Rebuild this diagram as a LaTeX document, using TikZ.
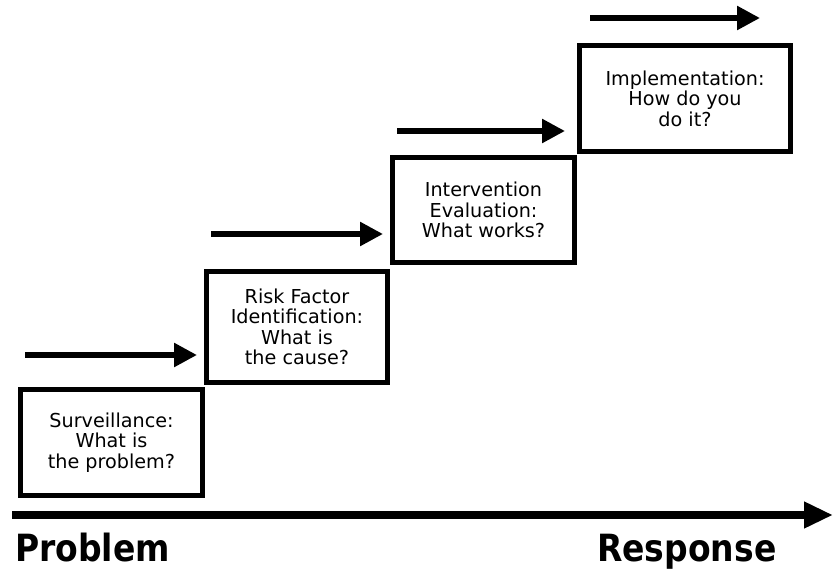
\documentclass[tikz,border=0pt]{standalone}
\usepackage{fontspec}
\setmainfont{DejaVu Sans}
\newfontfamily\axfont[FakeStretch=0.88]{DejaVu Sans}
\usetikzlibrary{arrows.meta}
\begin{document}
\begin{tikzpicture}[x=1pt,y=-1pt,
  stepbox/.style={draw, line width=5pt, align=center, inner sep=0pt,
    font=\fontsize{19.2}{20.5}\selectfont},
  smallarrow/.style={line width=5.5pt, -{Triangle[length=23pt,width=23pt]}},
  axisarrow/.style={line width=8pt, -{Triangle[length=29pt,width=25pt]}},
  axlabel/.style={font=\axfont\bfseries\fontsize{37.5}{40}\selectfont, anchor=base west, inner sep=0pt}]
\useasboundingbox (0,0) rectangle (833,570);
% step boxes
\node[stepbox, minimum width=182pt, minimum height=106pt] (s1) at (111.5,442.5) {Surveillance:\\What is\\the problem?};
\node[stepbox, minimum width=181pt, minimum height=111pt] (s2) at (297,327) {Risk Factor\\Identification:\\What is\\the cause?};
\node[stepbox, minimum width=182pt, minimum height=105pt] (s3) at (483.5,210) {Intervention\\Evaluation:\\What works?};
\node[stepbox, minimum width=211pt, minimum height=106pt] (s4) at (685,98.5) {Implementation:\\How do you\\do it?};
% small arrows
\coordinate (a1s) at (25,355);  \coordinate (a1e) at (197,355);
\coordinate (a2s) at (211,234); \coordinate (a2e) at (383,234);
\coordinate (a3s) at (397,131); \coordinate (a3e) at (565,131);
\coordinate (a4s) at (590,18);  \coordinate (a4e) at (760,18);
\draw[smallarrow] (a1s) -- (a1e);
\draw[smallarrow] (a2s) -- (a2e);
\draw[smallarrow] (a3s) -- (a3e);
\draw[smallarrow] (a4s) -- (a4e);
% axis
\coordinate (axs) at (12,515); \coordinate (axe) at (833,515);
\draw[axisarrow] (axs) -- (axe);
\node[axlabel] (prob) at (15,561) {Problem};
\node[axlabel] (resp) at (597,561) {Response};
\end{tikzpicture}
\end{document}
